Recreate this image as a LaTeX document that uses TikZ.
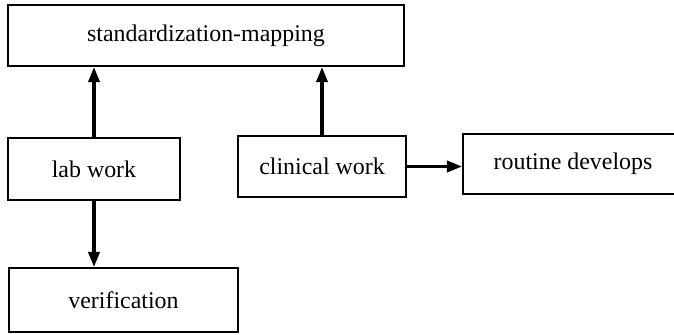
\documentclass[tikz,border=0pt]{standalone}
\usepackage{fontspec}
\setmainfont{Liberation Serif}
\usetikzlibrary{shapes,arrows.meta}
\tikzstyle{block} = [draw, rectangle, line width=1.3pt,
    font=\fontsize{17}{20}\selectfont, minimum height=1.53cm]
\tikzstyle{link} = [line width=2.4pt, -{Triangle[length=0.38cm,width=0.28cm]}]

\begin{document}
\begin{tikzpicture}[x=0.025cm,y=-0.025cm]
\useasboundingbox (0,0) rectangle (674,334);

\node[block, name=stdmap, minimum width=9.9cm] at (206,35.5) {standardization-mapping};
\node[block, name=lab, minimum width=4.3cm] at (94,169) {lab work};
\node[block, name=clinical, minimum width=4.2cm] at (322,166.5) {clinical work};
\node[block, name=routine, minimum width=5.5cm, minimum height=1.5cm] at (573,164) {routine develops};
\node[block, name=verif, minimum width=5.72cm, minimum height=1.6cm] at (123.5,300) {verification};

\draw[link] (lab.north) -- (lab.north |- stdmap.south);
\draw[link] (clinical.north) -- (clinical.north |- stdmap.south);
\draw[link] (lab.south) -- (lab.south |- verif.north);
\draw[link] (clinical.east) -- (clinical.east -| routine.west);
\end{tikzpicture}
\end{document}
